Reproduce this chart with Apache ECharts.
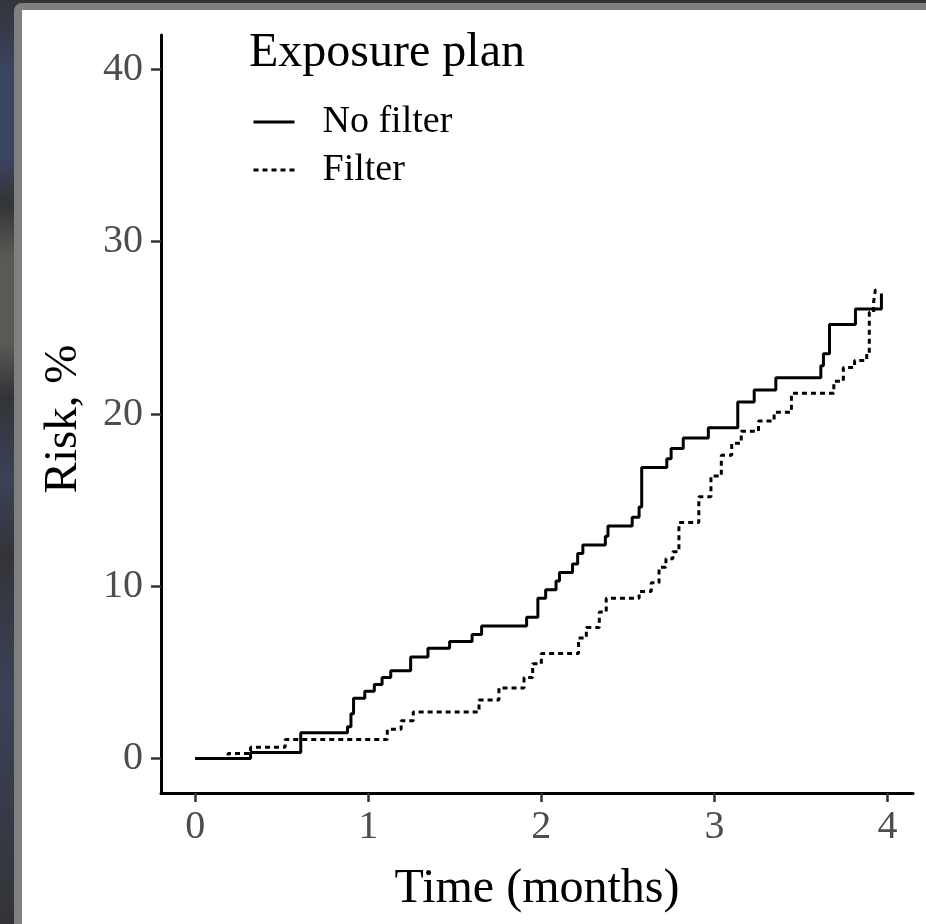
<!DOCTYPE html>
<html lang="en">

<head>
    <meta charset="UTF-8">
    <title>Risk by exposure plan</title>
    <script src="https://cdn.jsdelivr.net/npm/echarts@6/dist/echarts.min.js"></script>
    <style>
        body {
            margin: 0;
            width: 926px;
            height: 924px;
            overflow: hidden;
            background: linear-gradient(to bottom, #333438 0%, #3a4560 8%, #3a4560 17%, #333438 22%,
                #5a5a55 28%, #5a5a55 37%, #333438 43%, #3b4258 52%, #333438 60%, #3b4258 75%, #333438 100%);
        }

        #frame {
            position: absolute;
            left: 14px;
            top: 3px;
            right: 0;
            bottom: 0;
            background: #7f7f7f;
            border-top-left-radius: 8px;
        }

        #panel {
            position: absolute;
            left: 22px;
            top: 10px;
            right: 0;
            bottom: 0;
            background: #fff;
        }

        #chart {
            position: absolute;
            left: 0;
            top: 0;
            width: 926px;
            height: 924px;
        }
    </style>
</head>

<body>
    <div id="frame"></div>
    <div id="panel"></div>
    <div id="chart"></div>

    <script>
        // 数据
        var noFilterTime = [0, 0.32, 0.61, 0.88, 0.90, 0.915, 0.98, 1.035, 1.08, 1.13, 1.245, 1.345, 1.47, 1.60, 1.655,
            1.915, 1.98, 2.025, 2.085, 2.105, 2.18, 2.21, 2.24, 2.37, 2.385, 2.525, 2.565, 2.58, 2.725, 2.75, 2.82,
            2.965, 3.135, 3.23, 3.355, 3.615, 3.63, 3.665, 3.815, 3.965];
        var noFilterRisk = [0, 0.35, 1.5, 1.85, 2.6, 3.5, 3.9, 4.3, 4.7, 5.1, 5.9, 6.4, 6.8, 7.2, 7.7,
            8.2, 9.3, 9.8, 10.3, 10.8, 11.3, 11.9, 12.4, 12.9, 13.5, 14.0, 14.6, 16.9, 17.4, 18.0, 18.6,
            19.2, 20.7, 21.4, 22.1, 22.8, 23.5, 25.2, 26.1, 27.0];

        var filterTime = [0, 0.19, 0.32, 0.52, 1.11, 1.19, 1.26, 1.64, 1.755, 1.90, 1.95, 2.0, 2.215, 2.26, 2.335,
            2.375, 2.565, 2.635, 2.68, 2.72, 2.76, 2.795, 2.91, 2.98, 3.04, 3.10, 3.155, 3.255, 3.345, 3.445,
            3.69, 3.745, 3.81, 3.88, 3.895, 3.92, 3.93, 3.955];
        var filterRisk = [0, 0.3, 0.65, 1.1, 1.7, 2.2, 2.7, 3.4, 4.1, 4.7, 5.5, 6.1, 7.0, 7.6, 8.5,
            9.3, 9.7, 10.2, 11.1, 11.6, 12.0, 13.7, 15.2, 16.4, 17.6, 18.3, 19.0, 19.6, 20.1, 21.2,
            21.9, 22.7, 23.1, 23.5, 25.9, 26.5, 27.2, 27.2];

        var xTicks = [0, 1, 2, 3, 4];
        var yTicks = [0, 10, 20, 30, 40];

        var serif = "'Liberation Serif', 'DejaVu Serif', serif";

        function zip (xs, ys) {
            var out = [];
            for (var i = 0; i < xs.length; i++) {
                out.push([xs[i], ys[i]]);
            }
            return out;
        }

        var myChart = echarts.init(document.getElementById('chart'));

        var option = {
            animation: false,
            title: {
                text: 'Exposure plan',
                left: 249,
                top: 29,
                padding: 0,
                textStyle: {
                    fontFamily: serif,
                    fontSize: 48,
                    fontWeight: 'normal',
                    color: '#000'
                }
            },
            legend: {
                orient: 'vertical',
                left: 252,
                top: 102,
                padding: 0,
                itemWidth: 41,
                itemHeight: 14,
                itemGap: 8,
                itemStyle: { opacity: 0 },
                lineStyle: { width: 3 },
                data: ['No filter', 'Filter'],
                textStyle: {
                    fontFamily: serif,
                    fontSize: 38,
                    lineHeight: 40,
                    color: '#000',
                    padding: [0, 0, 0, 23]
                }
            },
            grid: {
                left: 161,
                right: 13,
                top: 35,
                bottom: 131
            },
            xAxis: {
                type: 'value',
                min: -0.1975,
                max: 4.1475,
                name: 'Time (months)',
                nameLocation: 'middle',
                nameGap: 72,
                nameTextStyle: {
                    fontFamily: serif,
                    fontSize: 48,
                    color: '#000'
                },
                axisLine: { onZero: false, lineStyle: { color: '#000', width: 3 } },
                axisTick: {
                    length: 9,
                    lineStyle: { color: '#333', width: 2.5 },
                    customValues: xTicks
                },
                axisLabel: {
                    fontFamily: serif,
                    fontSize: 40,
                    color: '#4d4d4d',
                    margin: 14,
                    customValues: xTicks
                },
                splitLine: { show: false }
            },
            yAxis: {
                type: 'value',
                min: -2,
                max: 42,
                name: 'Risk, %',
                nameLocation: 'middle',
                nameGap: 74,
                nameTextStyle: {
                    fontFamily: serif,
                    fontSize: 47,
                    color: '#000',
                    padding: [0, 10, 0, 0]
                },
                axisLine: { onZero: false, lineStyle: { color: '#000', width: 3 } },
                axisTick: {
                    length: 10,
                    lineStyle: { color: '#333', width: 2.5 },
                    customValues: yTicks
                },
                axisLabel: {
                    fontFamily: serif,
                    fontSize: 40,
                    color: '#4d4d4d',
                    margin: 18,
                    customValues: yTicks
                },
                splitLine: { show: false }
            },
            series: [{
                name: 'No filter',
                type: 'line',
                step: 'end',
                symbol: 'none',
                lineStyle: { color: '#000', width: 3, type: 'solid' },
                itemStyle: { color: '#000' },
                data: zip(noFilterTime, noFilterRisk)
            }, {
                name: 'Filter',
                type: 'line',
                step: 'end',
                symbol: 'none',
                lineStyle: { color: '#000', width: 3, type: [5, 4] },
                itemStyle: { color: '#000' },
                data: zip(filterTime, filterRisk)
            }]
        };

        myChart.setOption(option);
    </script>
</body>

</html>
